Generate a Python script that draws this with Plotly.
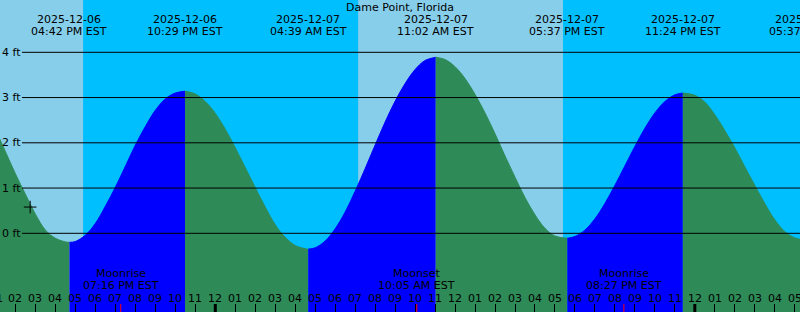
import numpy as np
import pandas as pd
import plotly.graph_objects as go

TITLE = "Dame Point, Florida"

# Tide curve samples (local time EST, feet)
TIMES = [
    "2025-12-06 13:00", "2025-12-06 13:30", "2025-12-06 14:00", "2025-12-06 14:30",
    "2025-12-06 15:00", "2025-12-06 15:30", "2025-12-06 16:00", "2025-12-06 16:30",
    "2025-12-06 16:42", "2025-12-06 17:00", "2025-12-06 17:30", "2025-12-06 18:00",
    "2025-12-06 18:30", "2025-12-06 19:00", "2025-12-06 19:30", "2025-12-06 20:00",
    "2025-12-06 20:30", "2025-12-06 21:00", "2025-12-06 21:30", "2025-12-06 22:00",
    "2025-12-06 22:29", "2025-12-06 23:00", "2025-12-06 23:30", "2025-12-07 00:00",
    "2025-12-07 00:30", "2025-12-07 01:00", "2025-12-07 01:30", "2025-12-07 02:00",
    "2025-12-07 02:30", "2025-12-07 03:00", "2025-12-07 03:30", "2025-12-07 04:00",
    "2025-12-07 04:30", "2025-12-07 04:39", "2025-12-07 05:00", "2025-12-07 05:30",
    "2025-12-07 06:00", "2025-12-07 06:30", "2025-12-07 07:00", "2025-12-07 07:30",
    "2025-12-07 08:00", "2025-12-07 08:30", "2025-12-07 09:00", "2025-12-07 09:30",
    "2025-12-07 10:00", "2025-12-07 10:30", "2025-12-07 11:02", "2025-12-07 11:30",
    "2025-12-07 12:00", "2025-12-07 12:30", "2025-12-07 13:00", "2025-12-07 13:30",
    "2025-12-07 14:00", "2025-12-07 14:30", "2025-12-07 15:00", "2025-12-07 15:30",
    "2025-12-07 16:00", "2025-12-07 16:30", "2025-12-07 17:00", "2025-12-07 17:37",
    "2025-12-07 18:00", "2025-12-07 18:30", "2025-12-07 19:00", "2025-12-07 19:30",
    "2025-12-07 20:00", "2025-12-07 20:30", "2025-12-07 21:00", "2025-12-07 21:30",
    "2025-12-07 22:00", "2025-12-07 22:30", "2025-12-07 23:00", "2025-12-07 23:24",
    "2025-12-08 00:00", "2025-12-08 00:30", "2025-12-08 01:00", "2025-12-08 01:30",
    "2025-12-08 02:00", "2025-12-08 02:30", "2025-12-08 03:00", "2025-12-08 03:30",
    "2025-12-08 04:00", "2025-12-08 04:30", "2025-12-08 05:00", "2025-12-08 05:30",
]
HEIGHTS = [
    2.29, 1.80, 1.31, 0.86,
    0.42, 0.07, -0.11, -0.19,
    -0.20, -0.18, -0.04, 0.22,
    0.60, 1.02, 1.48, 1.95,
    2.36, 2.72, 2.97, 3.10,
    3.14, 3.08, 2.91, 2.65,
    2.30, 1.89, 1.45, 1.01,
    0.58, 0.19, -0.09, -0.27,
    -0.34, -0.35, -0.32, -0.17,
    0.10, 0.47, 0.93, 1.43,
    1.95, 2.46, 2.92, 3.31,
    3.62, 3.82, 3.89, 3.84,
    3.68, 3.42, 3.07, 2.66,
    2.20, 1.71, 1.24, 0.79,
    0.41, 0.11, -0.06, -0.11,
    -0.07, 0.07, 0.32, 0.66,
    1.06, 1.49, 1.92, 2.32,
    2.66, 2.91, 3.06, 3.10,
    3.05, 2.90, 2.62, 2.27,
    1.89, 1.47, 1.06, 0.66,
    0.30, 0.04, -0.10, -0.15,
]

# High / low tide events
EVENT_TIMES = ["2025-12-06 16:42", "2025-12-06 22:29", "2025-12-07 04:39",
               "2025-12-07 11:02", "2025-12-07 17:37", "2025-12-07 23:24",
               "2025-12-08 05:37"]

# Moon events
MOON_LABELS = ["Moonrise", "Moonset", "Moonrise"]
MOON_TIMES = ["2025-12-06 19:16", "2025-12-07 10:05", "2025-12-07 20:27"]

# Daylight intervals (sunrise, sunset)
DAY_STARTS = ["2025-12-06 07:08", "2025-12-07 07:09"]
DAY_ENDS = ["2025-12-06 17:23", "2025-12-07 17:24"]

MIDNIGHTS = ["2025-12-07 00:00", "2025-12-08 00:00"]
NOW_TIME = "2025-12-06 14:44"
NOW_HEIGHT = 0.58

FT_LEVELS = [0, 1, 2, 3, 4]
FT_LABELS = ["0 ft", "1 ft", "2 ft", "3 ft", "4 ft"]

HOUR_LABEL_FORMAT = "%I"

# ---- layout constants ----
W, H = 800, 312
PX_PER_HOUR = 19.98
MIDNIGHT_PX = 215.3
ZERO_PX = 233.3
PX_PER_FT = 45.25
X0 = pd.Timestamp("2025-12-07") - pd.Timedelta(hours=MIDNIGHT_PX / PX_PER_HOUR)
X1 = X0 + pd.Timedelta(hours=W / PX_PER_HOUR)
Y0 = -(H - ZERO_PX) / PX_PER_FT
Y1 = ZERO_PX / PX_PER_FT

FONT = dict(family="DejaVu Sans", size=11, color="black")
NIGHT = "#00BFFF"
DAY = "#87CEEB"
RISE = "#0000FF"
FALL = "#2E8B57"


def py(pix):
    return 1 - pix / H


def fx(t):
    t = pd.Timestamp(t)
    return (t - X0) / (X1 - X0)


fig = go.Figure()

t = pd.to_datetime(TIMES)
tset = list(t)
ev = pd.to_datetime(EVENT_TIMES)
cuts = [0] + [tset.index(e) for e in ev if e in tset] + [len(t) - 1]
cuts = sorted(set(cuts))
for a, b in zip(cuts[:-1], cuts[1:]):
    xs = list(t[a:b + 1])
    ys = HEIGHTS[a:b + 1]
    col = RISE if ys[-1] > ys[0] else FALL
    fig.add_trace(go.Scatter(x=[xs[0], xs[-1]], y=[Y0 - 1, Y0 - 1], mode="lines",
                             line=dict(width=0), hoverinfo="skip", showlegend=False))
    fig.add_trace(go.Scatter(x=xs, y=ys, mode="lines", fill="tonexty", fillcolor=col,
                             line=dict(color=col, width=1, shape="spline", smoothing=1),
                             hoverinfo="skip", showlegend=False))

fig.add_trace(go.Scatter(x=[pd.Timestamp(NOW_TIME)], y=[NOW_HEIGHT], mode="markers",
                         marker=dict(symbol="cross-thin", size=9,
                                     line=dict(color="black", width=1)),
                         hoverinfo="skip", showlegend=False))

shapes = []
for s, e in zip(DAY_STARTS, DAY_ENDS):
    shapes.append(dict(type="rect", xref="x", yref="paper", x0=s, x1=e, y0=0, y1=1,
                       fillcolor=DAY, line=dict(width=0), layer="below"))
for v in FT_LEVELS:
    shapes.append(dict(type="line", xref="paper", yref="y", x0=22 / W, x1=1, y0=v, y1=v,
                       line=dict(color="black", width=1), layer="above"))
for m in MIDNIGHTS:
    shapes.append(dict(type="line", xref="x", yref="paper", x0=m, x1=m, y0=0, y1=8 / H,
                       line=dict(color="black", width=3), layer="above"))
for m in MOON_TIMES:
    shapes.append(dict(type="line", xref="x", yref="paper", x0=m, x1=m, y0=0, y1=8 / H,
                       line=dict(color="red", width=1), layer="above"))

ann = []
ann.append(dict(text=TITLE, x=0.5, y=py(7.5), xref="paper", yref="paper",
                xanchor="center", yanchor="middle", showarrow=False, font=FONT))
for e in ev:
    ann.append(dict(text=e.strftime("%Y-%m-%d"), x=fx(e), y=py(19.2), xref="paper",
                    yref="paper", xanchor="center", yanchor="middle", showarrow=False,
                    font=FONT))
    ann.append(dict(text=e.strftime("%I:%M %p EST"), x=fx(e), y=py(31.2), xref="paper",
                    yref="paper", xanchor="center", yanchor="middle", showarrow=False,
                    font=FONT))
for lab, m in zip(MOON_LABELS, pd.to_datetime(MOON_TIMES)):
    ann.append(dict(text=lab, x=m, y=py(273.5), xref="x", yref="paper",
                    xanchor="center", yanchor="middle", showarrow=False, font=FONT))
    ann.append(dict(text=m.strftime("%I:%M %p EST"), x=m, y=py(285), xref="x",
                    yref="paper", xanchor="center", yanchor="middle", showarrow=False,
                    font=FONT))
for v, lab in zip(FT_LEVELS, FT_LABELS):
    ann.append(dict(text=lab, x=0, y=v, xref="paper", yref="y", xanchor="left",
                    yanchor="middle", showarrow=False, font=FONT))
# hour labels (including partly visible ones at the edges)
for hr in pd.date_range(X0.floor("h"), X1.ceil("h"), freq="h"):
    ann.append(dict(text=hr.strftime(HOUR_LABEL_FORMAT), x=fx(hr), y=py(298),
                    xref="paper", yref="paper", xanchor="center", yanchor="middle",
                    showarrow=False, font=FONT))

fig.update_layout(
    width=W, height=H, margin=dict(l=0, r=0, t=0, b=0, pad=0),
    plot_bgcolor=NIGHT, paper_bgcolor=NIGHT,
    shapes=shapes, annotations=ann, showlegend=False,
    xaxis=dict(type="date", range=[X0.isoformat(), X1.isoformat()], showgrid=False,
               zeroline=False, showline=False, ticks="inside", ticklen=8,
               tickcolor="black", tickwidth=1, dtick=3600000,
               tick0="2025-12-07 00:00", showticklabels=False, fixedrange=True),
    yaxis=dict(range=[Y0, Y1], visible=False, fixedrange=True),
)

fig.write_html("out.html", config={"displayModeBar": False})
